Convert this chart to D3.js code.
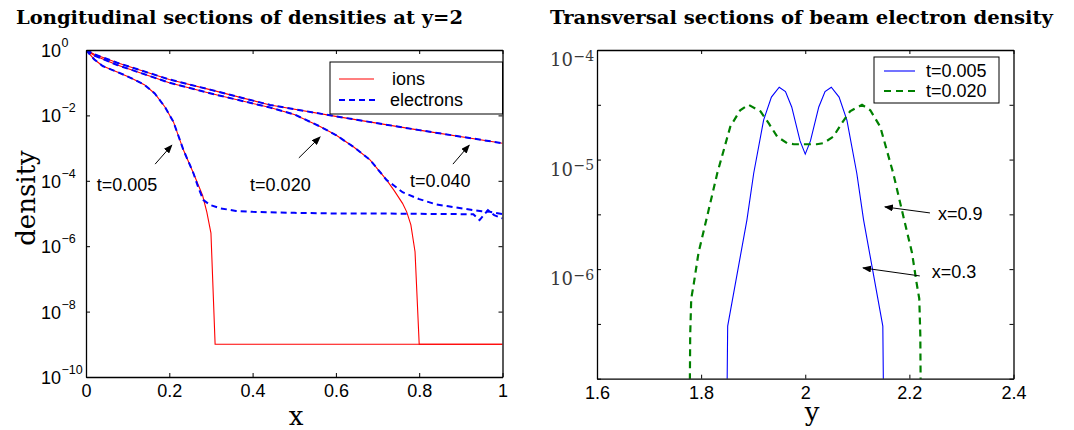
<!DOCTYPE html>
<html>
<head>
<meta charset="utf-8">
<script src="https://cdn.jsdelivr.net/npm/d3@7"></script>
<style>
  body { margin: 0; background: #fff; }
  svg { display: block; }
</style>
</head>
<body>
<svg id="chart" width="1074" height="430"></svg>
<script>
// ---------- Longitudinal sections at y = 2 (values stored as log10 of density) ----------
const xIons005   = [0, 0.02, 0.04, 0.075, 0.107, 0.14, 0.165, 0.19, 0.21, 0.234, 0.258, 0.28, 0.29, 0.30, 0.31, 1.0];
const logIons005 = [0, -0.29, -0.49, -0.67, -0.85, -1.06, -1.33, -1.75, -2.2, -3.06, -3.77, -4.45, -4.95, -5.6, -9, -9];

const xElec005   = [0, 0.02, 0.04, 0.075, 0.107, 0.14, 0.165, 0.19, 0.21, 0.234, 0.258, 0.27, 0.282, 0.298, 0.322, 0.36, 0.4, 0.5, 0.6, 0.7, 0.8, 0.9, 0.93, 0.945, 0.965, 0.98, 1.0];
const logElec005 = [0, -0.29, -0.49, -0.67, -0.85, -1.06, -1.33, -1.75, -2.2, -3.06, -3.77, -4.22, -4.59, -4.74, -4.84, -4.92, -4.95, -4.98, -5.0, -5.0, -5.01, -5.02, -5.02, -5.2, -4.9, -5.05, -5.15];

const xIons020   = [0, 0.02, 0.075, 0.2, 0.3, 0.442, 0.5, 0.562, 0.6, 0.642, 0.682, 0.722, 0.74, 0.76, 0.77, 0.78, 0.79, 0.80, 1.0];
const logIons020 = [0, -0.17, -0.46, -1.0, -1.33, -1.76, -1.97, -2.34, -2.6, -2.96, -3.36, -3.98, -4.3, -4.69, -4.95, -5.35, -6.17, -9, -9];

const xElec020   = [0, 0.02, 0.075, 0.2, 0.3, 0.442, 0.5, 0.562, 0.6, 0.642, 0.682, 0.722, 0.74, 0.76, 0.8, 0.84, 0.87, 0.91, 0.95, 0.97, 1.0];
const logElec020 = [0, -0.17, -0.46, -1.0, -1.33, -1.76, -1.97, -2.34, -2.6, -2.96, -3.36, -3.98, -4.15, -4.35, -4.56, -4.72, -4.78, -4.86, -4.93, -4.95, -5.02];

const xIons040   = [0, 0.02, 0.075, 0.2, 0.3, 0.442, 0.6, 0.8, 1.0];
const logIons040 = [0, -0.13, -0.39, -0.9, -1.22, -1.68, -2.03, -2.45, -2.85];
const xElec040   = [0, 0.02, 0.075, 0.2, 0.3, 0.442, 0.6, 0.8, 1.0];
const logElec040 = [0, -0.13, -0.39, -0.9, -1.22, -1.68, -2.03, -2.45, -2.85];

const xTicksLeft   = [0, 0.2, 0.4, 0.6, 0.8, 1];
const yExpTicksLeft = [0, -2, -4, -6, -8, -10];

// ---------- Transversal sections of beam electron density ----------
const yBeam005   = [1.848, 1.851, 1.888, 1.901, 1.92, 1.935, 1.95, 1.962, 1.974, 1.99, 2.0, 2.01, 2.026, 2.038, 2.05, 2.065, 2.08, 2.099, 2.112, 2.149, 2.152];
const logBeam005 = [-8, -6.52, -5.55, -5.125, -4.64, -4.43, -4.34, -4.38, -4.52, -4.83, -4.95, -4.83, -4.52, -4.38, -4.34, -4.43, -4.64, -5.125, -5.55, -6.52, -8];

const yBeam020   = [1.777, 1.779, 1.781, 1.786, 1.795, 1.81, 1.831, 1.856, 1.875, 1.891, 1.914, 1.93, 1.946, 1.965, 1.978, 2.0, 2.022, 2.035, 2.054, 2.07, 2.086, 2.109, 2.125, 2.144, 2.169, 2.19, 2.205, 2.214, 2.219, 2.221, 2.223];
const logBeam020 = [-8, -6.6, -6.27, -6.13, -5.85, -5.55, -5.125, -4.70, -4.55, -4.50, -4.56, -4.67, -4.79, -4.85, -4.86, -4.86, -4.86, -4.85, -4.79, -4.67, -4.56, -4.50, -4.55, -4.70, -5.125, -5.55, -5.85, -6.13, -6.27, -6.6, -8];

const xTicksRight    = [1.6, 1.8, 2.0, 2.2, 2.4];
const yExpTicksRight = [-4, -4.5, -5, -5.5, -6, -6.5, -7];
const yExpLabelsRight = [-4, -5, -6];

// ---------- drawing ----------
const svg = d3.select("#chart");
const SANS = "'Liberation Sans', Arial, Helvetica, sans-serif";
const SERIF = "'DejaVu Serif', serif";

svg.append("rect").attr("width", 1074).attr("height", 430).attr("fill", "#fff");

const defs = svg.append("defs");
defs.append("marker")
  .attr("id", "arrowhead")
  .attr("markerUnits", "userSpaceOnUse")
  .attr("markerWidth", 9).attr("markerHeight", 7)
  .attr("refX", 8).attr("refY", 3.5)
  .attr("orient", "auto")
  .append("path").attr("d", "M0,0 L9,3.5 L0,7 Z").attr("fill", "#000");

const pow10 = e => Math.pow(10, e);
const pairs = (xs, logs) => xs.map((x, i) => [x, pow10(logs[i])]);

function frame(g, x, y, box, xTicks, yTickVals, xFmt) {
  const styleAxis = sel => {
    sel.select(".domain").attr("stroke", "#000").attr("stroke-width", 1.3);
    sel.selectAll(".tick line").attr("stroke", "#000").attr("stroke-width", 1);
  };
  g.append("g").attr("transform", `translate(0,${box.bottom})`)
    .call(d3.axisBottom(x).tickValues(xTicks).tickSize(-4).tickSizeOuter(0).tickPadding(7.5).tickFormat(xFmt))
    .call(styleAxis)
    .call(s => s.selectAll(".tick text").attr("font-family", SANS).attr("font-size", 18).attr("fill", "#000"));
  g.append("g").attr("transform", `translate(0,${box.top})`)
    .call(d3.axisTop(x).tickValues(xTicks).tickSize(-4).tickSizeOuter(0).tickFormat(""))
    .call(styleAxis);
  g.append("g").attr("transform", `translate(${box.left},0)`)
    .call(d3.axisLeft(y).tickValues(yTickVals).tickSize(-4).tickSizeOuter(0).tickFormat(""))
    .call(styleAxis);
  g.append("g").attr("transform", `translate(${box.right},0)`)
    .call(d3.axisRight(y).tickValues(yTickVals).tickSize(-4).tickSizeOuter(0).tickFormat(""))
    .call(styleAxis);
}

function clip(id, box) {
  defs.append("clipPath").attr("id", id).append("rect")
    .attr("x", box.left).attr("y", box.top)
    .attr("width", box.right - box.left).attr("height", box.bottom - box.top);
}

// ===== Left panel =====
const BL = { left: 86, right: 502.5, top: 50, bottom: 377 };
const xL = d3.scaleLinear().domain([0, 1]).range([BL.left, BL.right]);
const yL = d3.scaleLog().domain([1e-10, 1]).range([BL.bottom, BL.top]);
clip("clipL", BL);

const gL = svg.append("g");
const lineL = d3.line().x(d => xL(d[0])).y(d => yL(d[1]));
const plotL = gL.append("g").attr("clip-path", "url(#clipL)");

const ionSeries = [[xIons005, logIons005], [xIons020, logIons020], [xIons040, logIons040]];
const elecSeries = [[xElec005, logElec005], [xElec020, logElec020], [xElec040, logElec040]];

ionSeries.forEach(([xs, ls]) => {
  plotL.append("path").datum(pairs(xs, ls)).attr("d", lineL)
    .attr("fill", "none").attr("stroke", "#ff0000").attr("stroke-width", 1.1);
});
elecSeries.forEach(([xs, ls]) => {
  plotL.append("path").datum(pairs(xs, ls)).attr("d", lineL)
    .attr("fill", "none").attr("stroke", "#0000ff").attr("stroke-width", 2)
    .attr("stroke-dasharray", "6,4");
});

frame(gL, xL, yL, BL, xTicksLeft, yExpTicksLeft.map(pow10), d => String(d));

// y tick labels as 10^k
yExpTicksLeft.forEach(k => {
  const yy = yL(pow10(k));
  gL.append("text").attr("x", 41).attr("y", yy + 7)
    .attr("font-family", SANS).attr("font-size", 18).text("10");
  gL.append("text").attr("x", 61.5).attr("y", yy - 3)
    .attr("font-family", SANS).attr("font-size", 12.5).text(k === 0 ? "0" : "\u2212" + Math.abs(k));
});

// annotations
const annLeft = [
  { label: "t=0.005", tx: 0.026, te: -4.30, from: [0.166, -3.49], to: [0.206, -2.91] },
  { label: "t=0.020", tx: 0.394, te: -4.30, from: [0.511, -3.30], to: [0.562, -2.66] },
  { label: "t=0.040", tx: 0.778, te: -4.18, from: [0.881, -3.49], to: [0.920, -2.91] }
];
annLeft.forEach(a => {
  gL.append("text").attr("x", xL(a.tx)).attr("y", yL(pow10(a.te)))
    .attr("font-family", SANS).attr("font-size", 18).text(a.label);
  gL.append("line")
    .attr("x1", xL(a.from[0])).attr("y1", yL(pow10(a.from[1])))
    .attr("x2", xL(a.to[0])).attr("y2", yL(pow10(a.to[1])))
    .attr("stroke", "#000").attr("stroke-width", 1).attr("marker-end", "url(#arrowhead)");
});

// legend
const legL = gL.append("g");
legL.append("rect").attr("x", 330).attr("y", 62).attr("width", 172.5).attr("height", 52)
  .attr("fill", "#fff").attr("stroke", "#000").attr("stroke-width", 1);
legL.append("line").attr("x1", 339).attr("x2", 374).attr("y1", 79).attr("y2", 79)
  .attr("stroke", "#ff0000").attr("stroke-width", 1.1);
legL.append("text").attr("x", 392).attr("y", 85).attr("font-family", SANS).attr("font-size", 18).text("ions");
legL.append("line").attr("x1", 339).attr("x2", 379).attr("y1", 100).attr("y2", 100)
  .attr("stroke", "#0000ff").attr("stroke-width", 2).attr("stroke-dasharray", "6,4");
legL.append("text").attr("x", 390).attr("y", 106).attr("font-family", SANS).attr("font-size", 18).text("electrons");

// axis titles
gL.append("text").attr("x", 296).attr("y", 425).attr("text-anchor", "middle")
  .attr("font-family", SERIF).attr("font-size", 26).text("x");
gL.append("text").attr("transform", "translate(35,198) rotate(-90)").attr("text-anchor", "middle")
  .attr("font-family", SERIF).attr("font-size", 26).text("density");

// panel title
gL.append("text").attr("x", 16).attr("y", 23.5)
  .attr("font-family", SERIF).attr("font-weight", "bold").attr("font-size", 18)
  .attr("textLength", 447).attr("lengthAdjust", "spacingAndGlyphs")
  .text("Longitudinal sections of densities at y=2");

// ===== Right panel =====
const BR = { left: 597, right: 1013.5, top: 50, bottom: 378.7 };
const xR = d3.scaleLinear().domain([1.6, 2.4]).range([BR.left, BR.right]);
const yR = d3.scaleLog().domain([1e-7, 1e-4]).range([BR.bottom, BR.top]);
clip("clipR", BR);

const gR = svg.append("g");
const lineR = d3.line().x(d => xR(d[0])).y(d => yR(d[1]));
const plotR = gR.append("g").attr("clip-path", "url(#clipR)");

plotR.append("path").datum(pairs(yBeam005, logBeam005)).attr("d", lineR)
  .attr("fill", "none").attr("stroke", "#0000ff").attr("stroke-width", 1.1);
plotR.append("path").datum(pairs(yBeam020, logBeam020)).attr("d", lineR)
  .attr("fill", "none").attr("stroke", "#008000").attr("stroke-width", 2.2)
  .attr("stroke-dasharray", "7,5");

frame(gR, xR, yR, BR, xTicksRight, yExpTicksRight.map(pow10), d => String(+d.toFixed(1)));

yExpLabelsRight.forEach(k => {
  const yy = yR(pow10(k));
  gR.append("text").attr("x", 573).attr("y", yy + 16).attr("text-anchor", "end")
    .attr("font-family", SERIF).attr("font-size", 18).attr("fill", "#3a3a3a").text("10");
  gR.append("text").attr("x", 573.5).attr("y", yy + 10.5)
    .attr("font-family", SERIF).attr("font-size", 14).attr("fill", "#3a3a3a").text("\u2212" + Math.abs(k));
});

const annRight = [
  { label: "x=0.9", tx: 2.255, te: -5.551, from: [2.2395, -5.487], to: [2.153, -5.432] },
  { label: "x=0.3", tx: 2.243, te: -6.083, from: [2.220, -6.062], to: [2.111, -5.989] }
];
annRight.forEach(a => {
  gR.append("text").attr("x", xR(a.tx)).attr("y", yR(pow10(a.te)))
    .attr("font-family", SANS).attr("font-size", 18).text(a.label);
  gR.append("line")
    .attr("x1", xR(a.from[0])).attr("y1", yR(pow10(a.from[1])))
    .attr("x2", xR(a.to[0])).attr("y2", yR(pow10(a.to[1])))
    .attr("stroke", "#000").attr("stroke-width", 1).attr("marker-end", "url(#arrowhead)");
});

const legR = gR.append("g");
legR.append("rect").attr("x", 874).attr("y", 57).attr("width", 125).attr("height", 46)
  .attr("fill", "#fff").attr("stroke", "#000").attr("stroke-width", 1);
legR.append("line").attr("x1", 884).attr("x2", 915).attr("y1", 71).attr("y2", 71)
  .attr("stroke", "#0000ff").attr("stroke-width", 1.1);
legR.append("text").attr("x", 926).attr("y", 77).attr("font-family", SANS).attr("font-size", 18).text("t=0.005");
legR.append("line").attr("x1", 884).attr("x2", 915).attr("y1", 91).attr("y2", 91)
  .attr("stroke", "#008000").attr("stroke-width", 2.2).attr("stroke-dasharray", "7,5");
legR.append("text").attr("x", 926).attr("y", 97).attr("font-family", SANS).attr("font-size", 18).text("t=0.020");

gR.append("text").attr("x", 812).attr("y", 421).attr("text-anchor", "middle")
  .attr("font-family", SERIF).attr("font-size", 26).text("y");

gR.append("text").attr("x", 550).attr("y", 23.5)
  .attr("font-family", SERIF).attr("font-weight", "bold").attr("font-size", 18)
  .attr("textLength", 503).attr("lengthAdjust", "spacingAndGlyphs")
  .text("Transversal sections of beam electron density");
</script>
</body>
</html>
